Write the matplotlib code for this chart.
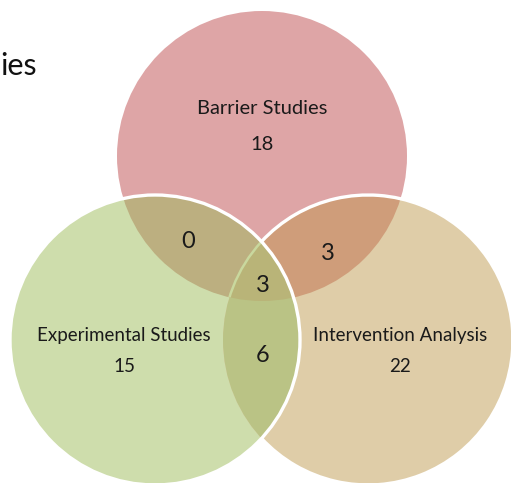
import numpy as np
import matplotlib.pyplot as plt
from matplotlib.patches import Circle, Arc, Polygon

plt.rcParams['font.family'] = ['Lato', 'DejaVu Sans']

# Venn data
set_names = ["Barrier Studies", "Experimental Studies", "Intervention Analysis"]
set_only = [18, 15, 22]
# overlaps: barrier & experimental, barrier & intervention, experimental & intervention
pair_counts = [0, 3, 6]
triple_count = 3
title_tail = "ies"

# layout (pixel-like data coordinates, y pointing down)
W, H = 511, 483
R = 145
centers = [(262, 156), (155, 340), (368, 340)]
fills = ["#DEA5A6", "#CEDDAC", "#DFCDA8"]
pair_fills = ["#BCAF80", "#CF9D7A", "#BAC385"]
triple_fill = "#B9B478"
edge_white = "white"


def meet(c1, c2, r=R):
    """Both intersection points of two equal circles."""
    (x1, y1), (x2, y2) = c1, c2
    d = np.hypot(x2 - x1, y2 - y1)
    h = np.sqrt(r**2 - (d / 2)**2)
    mx, my = (x1 + x2) / 2, (y1 + y2) / 2
    ux, uy = (x2 - x1) / d, (y2 - y1) / d
    return (mx - h * uy, my + h * ux), (mx + h * uy, my - h * ux)


def ang(c, p):
    return np.degrees(np.arctan2(p[1] - c[1], p[0] - c[0]))


def arc_pts(c, a1, a2, n=120):
    t = np.radians(np.linspace(a1, a2, n))
    return np.column_stack([c[0] + R * np.cos(t), c[1] + R * np.sin(t)])


fig = plt.figure(figsize=(W / 100, H / 100), dpi=100)
ax = fig.add_axes([0, 0, 1, 1])
ax.set_xlim(0, W)
ax.set_ylim(H, 0)
ax.set_aspect('equal')
ax.axis('off')

B, E, I = centers

# single sets
circles = []
for c, col in zip(centers, fills):
    p = Circle(c, R, facecolor=col, edgecolor='none', zorder=1)
    ax.add_patch(p)
    circles.append(p)
cB, cE, cI = circles

# pairwise overlaps, painted by clipping one circle to another
for (c, clip), col in zip([(E, cB), (I, cB), (E, cI)], pair_fills):
    p = Circle(c, R, facecolor=col, edgecolor='none', zorder=2)
    ax.add_patch(p)
    p.set_clip_path(clip)

# triple overlap: red circle clipped to the green/tan lens
p1, p2 = meet(E, I)
e_lo, e_hi = sorted([ang(E, p1), ang(E, p2)])
i_lo, i_hi = sorted([ang(I, p1), ang(I, p2)])
lens_e = arc_pts(E, e_lo, e_hi)          # right side of the green circle, top -> bottom
lens_i = arc_pts(I, i_hi, i_lo + 360)    # left side of the tan circle, bottom -> top
lens = Polygon(np.vstack([lens_e, lens_i]), closed=True,
               facecolor='none', edgecolor='none')
ax.add_patch(lens)
tri = Circle(B, R, facecolor=triple_fill, edgecolor='none', zorder=3)
ax.add_patch(tri)
tri.set_clip_path(lens)

# faint trace of the tan edge showing through the green circle
trace = Arc(I, 2 * R, 2 * R, theta1=i_hi, theta2=i_lo + 360,
            color="#C9D89E", lw=1.8, zorder=4)
ax.add_patch(trace)
trace.set_clip_path(cB)

# white outlines: tan circle outside the green one, green circle all round
ax.add_patch(Arc(I, 2 * R, 2 * R, theta1=i_lo, theta2=i_hi,
                 color=edge_white, lw=2.4, zorder=5))
ax.add_patch(Circle(E, R, facecolor='none', edgecolor=edge_white, lw=2.4, zorder=5))

# labels
label_pos = [(262, 108), (124, 336), (400, 336)]
count_pos = [(262, 144), (124, 367), (400, 367)]
label_size = [14.5, 13.5, 13.5]
for name, n, lp, cp, fs in zip(set_names, set_only, label_pos, count_pos, label_size):
    ax.text(*lp, name, ha='center', va='center', fontsize=fs, color='#1a1a1a', zorder=6)
    ax.text(*cp, str(n), ha='center', va='center', fontsize=fs, color='#1a1a1a', zorder=6)

pair_pos = [(188, 242), (328, 253), (263, 356)]
for n, pp in zip(pair_counts, pair_pos):
    ax.text(*pp, str(n), ha='center', va='center', fontsize=17, color='#1a1a1a', zorder=6)
ax.text(263, 285, str(triple_count), ha='center', va='center', fontsize=17,
        color='#1a1a1a', zorder=6)

ax.text(0, 66, title_tail, ha='left', va='center', fontsize=22, color='#111111', zorder=6)

fig.savefig("out.png", dpi=100)
